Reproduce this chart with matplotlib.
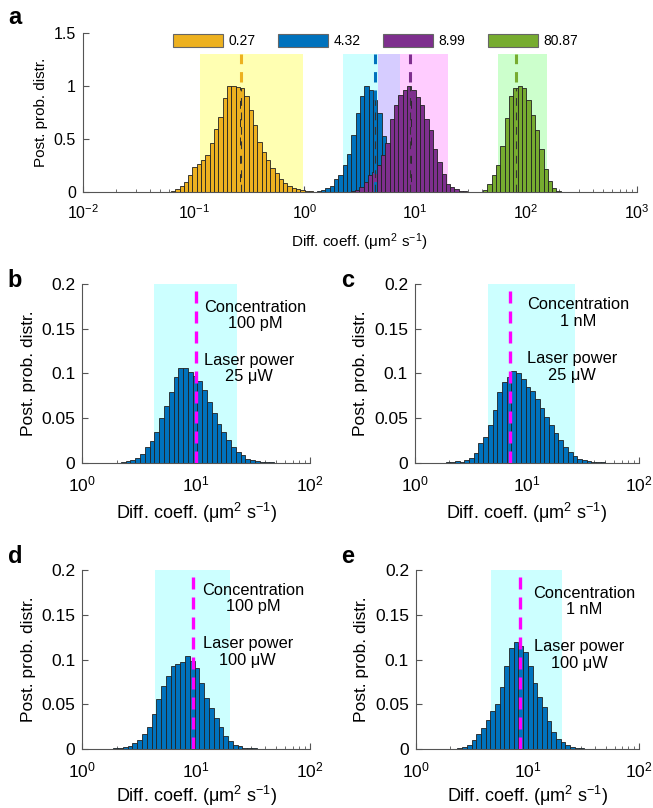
import numpy as np
import matplotlib.pyplot as plt
from matplotlib.patches import Patch

plt.rcParams['font.family'] = ['Liberation Sans', 'DejaVu Sans']
plt.rcParams['mathtext.fontset'] = 'custom'
plt.rcParams['mathtext.rm'] = 'Liberation Sans'
plt.rcParams['mathtext.it'] = 'Liberation Sans:italic'

# ---- panel a data (log10 of first bin edge, bar heights) ----
BIN_A = 0.039
labels_a = ['0.27', '4.32', '8.99', '80.87']
medians_a = [0.27, 4.32, 8.99, 80.87]
colors_a = ['#EDB120', '#0072BD', '#7E2F8E', '#77AC30']
starts_a = [-1.245, 0.073, 0.341, 1.574]
orange_vals = [0.006, 0.013, 0.028, 0.057, 0.097, 0.16, 0.236, 0.27, 0.30, 0.355,
               0.465, 0.594, 0.71, 0.884, 1.0, 1.0, 0.99, 0.98, 0.91, 0.78,
               0.632, 0.475, 0.38, 0.30, 0.233, 0.18, 0.13, 0.088, 0.06, 0.04,
               0.03, 0.025, 0.016, 0.01, 0.006]
blue_vals = [0.006, 0.012, 0.025, 0.04, 0.057, 0.13, 0.16, 0.255, 0.365, 0.544,
             0.75, 0.906, 1.0, 0.96, 0.87, 0.75, 0.53, 0.35, 0.21, 0.12,
             0.07, 0.04, 0.02, 0.01, 0.005]
purple_vals = [0.003, 0.005, 0.008, 0.02, 0.05, 0.1, 0.16, 0.19, 0.26, 0.35,
               0.465, 0.695, 0.82, 0.915, 0.96, 1.0, 0.96, 0.9, 0.82, 0.695,
               0.585, 0.41, 0.286, 0.176, 0.082, 0.05, 0.028, 0.013, 0.009, 0.003]
green_vals = [0.006, 0.025, 0.075, 0.16, 0.26, 0.44, 0.70, 0.91, 0.98, 1.0,
              0.985, 0.87, 0.73, 0.585, 0.405, 0.22, 0.105, 0.04, 0.016, 0.006]
vals_a = [orange_vals, blue_vals, purple_vals, green_vals]
# credible intervals (shaded)
ci_a = [(0.115, 0.97), (2.22, 7.26), (4.59, 19.7), (55.6, 154.0)]
shade_a = ['yellow', 'cyan', 'magenta', 'lime']
alpha_a = [0.3, 0.2, 0.2, 0.2]

# ---- panels b-e ----
BIN_BE = 0.042
panel_ids = ['b', 'c', 'd', 'e']
conc = ['100 pM', '1 nM', '100 pM', '1 nM']
power = ['25 \u03bcW', '25 \u03bcW', '100 \u03bcW', '100 \u03bcW']
medians_be = [10.0, 7.1, 9.35, 8.6]
ci_be = [(4.28, 22.9), (4.49, 26.9), (4.31, 19.9), (4.68, 20.4)]
starts_be = [0.339, 0.273, 0.272, 0.33]
b_vals = [0.001, 0.002, 0.0034, 0.006, 0.010, 0.018, 0.025, 0.035, 0.05, 0.064,
          0.079, 0.096, 0.1065, 0.1065, 0.102, 0.097, 0.092, 0.082, 0.0685, 0.056,
          0.044, 0.035, 0.026, 0.018, 0.0127, 0.009, 0.005, 0.0034, 0.002, 0.0015,
          0.001, 0.0006]
c_vals = [0.001, 0.0015, 0.002, 0.0015, 0.0034, 0.006, 0.011, 0.022, 0.0287, 0.043,
          0.059, 0.079, 0.090, 0.096, 0.103, 0.100, 0.0935, 0.085, 0.080, 0.072,
          0.061, 0.051, 0.0425, 0.033, 0.0257, 0.018, 0.0127, 0.0078, 0.005, 0.0034,
          0.002, 0.0015, 0.001, 0.0008]
d_vals = [0.0007, 0.001, 0.002, 0.003, 0.0067, 0.0097, 0.0167, 0.025, 0.039, 0.056,
          0.070, 0.082, 0.093, 0.095, 0.0967, 0.104, 0.098, 0.090, 0.074, 0.057,
          0.046, 0.035, 0.025, 0.014, 0.0085, 0.0048, 0.003, 0.0015, 0.001, 0.0007]
e_vals = [0.0004, 0.0007, 0.002, 0.005, 0.010, 0.0168, 0.024, 0.032, 0.042, 0.050,
          0.069, 0.093, 0.113, 0.120, 0.1155, 0.108, 0.093, 0.0734, 0.0577, 0.0466,
          0.0317, 0.0186, 0.011, 0.0074, 0.004, 0.0022, 0.0015, 0.001]
vals_be = [b_vals, c_vals, d_vals, e_vals]

AX_GRAY = '#555555'
XLABEL = 'Diff. coeff. (\u03bcm$^\\mathregular{2}$ s$^\\mathregular{-1}$)'


def style_axes(ax, fs, xpad):
    for s in ['top', 'right']:
        ax.spines[s].set_visible(False)
    for s in ['left', 'bottom']:
        ax.spines[s].set_color(AX_GRAY)
        ax.spines[s].set_linewidth(0.8)
    ax.tick_params(which='both', direction='in', color=AX_GRAY, labelsize=fs)
    ax.tick_params(which='major', length=4)
    ax.tick_params(which='minor', length=2)
    ax.tick_params(axis='y', pad=5)
    ax.tick_params(axis='x', pad=xpad)


def draw_hist(ax, start, width, vals, color, zorder):
    edges = 10 ** (start + width * np.arange(len(vals) + 1))
    ax.bar(edges[:-1], vals, width=np.diff(edges), align='edge', color=color,
           edgecolor='#222222', linewidth=0.6, zorder=zorder)
    return edges


fig = plt.figure(figsize=(6.53, 8.08), dpi=100)

# ---------------- panel a ----------------
ax = fig.add_axes([0.127, 0.762, 0.848, 0.197])
ax.set_xscale('log')
ax.set_xlim(1e-2, 1e3)
ax.set_ylim(0, 1.5)
for (lo, hi), c, al in zip(ci_a, shade_a, alpha_a):
    ax.axvspan(lo, hi, ymin=0, ymax=1.3 / 1.5, color=c, alpha=al, lw=0, zorder=0)
for i, (st, v, col) in enumerate(zip(starts_a, vals_a, colors_a)):
    draw_hist(ax, st, BIN_A, v, col, 2 + i * 0.1)
for st, v, col, med in zip(starts_a, vals_a, colors_a, medians_a):
    edges = 10 ** (st + BIN_A * np.arange(len(v) + 1))
    k = np.searchsorted(edges, med) - 1
    ax.plot([med, med], [0, 1.3], color=col, lw=2.2, dashes=(3.4, 2.6), zorder=3)
    ax.plot([med, med], [0, v[k]], color='#333333', lw=0.8, dashes=(7, 6), zorder=3.1)
ax.set_yticks([0, 0.5, 1, 1.5])
ax.set_yticklabels(['0', '0.5', '1', '1.5'])
style_axes(ax, 11.5, 8)
ax.set_ylabel('Post. prob. distr.', fontsize=11)
ax.set_xlabel(XLABEL, fontsize=11, labelpad=7)
handles = [Patch(facecolor=c, edgecolor='#666666', lw=0.8) for c in colors_a]
ax.legend(handles, labels_a, loc='upper left', bbox_to_anchor=(0.153, 1.03),
          ncol=4, frameon=False, fontsize=10, handlelength=3.6, handleheight=1.08,
          handletextpad=0.36, columnspacing=1.65, borderaxespad=0)
fig.text(0.012, 0.978, 'a', fontsize=17, fontweight='bold', va='center')

# ---------------- panels b-e ----------------
rects = [[0.126, 0.427, 0.349, 0.2215], [0.6355, 0.427, 0.343, 0.2215],
         [0.126, 0.073, 0.349, 0.2215], [0.637, 0.073, 0.342, 0.2215]]
letter_pos = [(0.012, 0.653), (0.522, 0.653), (0.012, 0.311), (0.522, 0.311)]
txt_x = [(0.76, 0.73), (0.727, 0.70), (0.75, 0.726), (0.752, 0.73)]
txt_y = [(0.824, 0.528), (0.838, 0.536), (0.84, 0.542), (0.824, 0.525)]

for i in range(4):
    ax = fig.add_axes(rects[i])
    ax.set_xscale('log')
    ax.set_xlim(1, 100)
    ax.set_ylim(0, 0.2)
    lo, hi = ci_be[i]
    ax.axvspan(lo, hi, color='cyan', alpha=0.2, lw=0, zorder=0)
    draw_hist(ax, starts_be[i], BIN_BE, vals_be[i], '#0072BD', 2)
    ax.plot([medians_be[i]] * 2, [0, 0.2], color='#FF00FF', lw=2.4,
            dashes=(3.6, 2.4), zorder=3)
    ax.set_yticks([0, 0.05, 0.1, 0.15, 0.2])
    ax.set_yticklabels(['0', '0.05', '0.1', '0.15', '0.2'])
    style_axes(ax, 12.5, 8)
    ax.set_ylabel('Post. prob. distr.', fontsize=12.5)
    ax.set_xlabel(XLABEL, fontsize=13, labelpad=5 if i < 2 else 3)
    ax.text(txt_x[i][0], txt_y[i][0], 'Concentration\n' + conc[i], transform=ax.transAxes,
            ha='center', va='center', fontsize=11.8, linespacing=1.1, multialignment='center')
    ax.text(txt_x[i][1], txt_y[i][1], 'Laser power\n' + power[i], transform=ax.transAxes,
            ha='center', va='center', fontsize=11.8, linespacing=1.1, multialignment='center')
    fig.text(letter_pos[i][0], letter_pos[i][1], panel_ids[i], fontsize=17,
             fontweight='bold', va='center')

fig.savefig('out.png', dpi=100)
